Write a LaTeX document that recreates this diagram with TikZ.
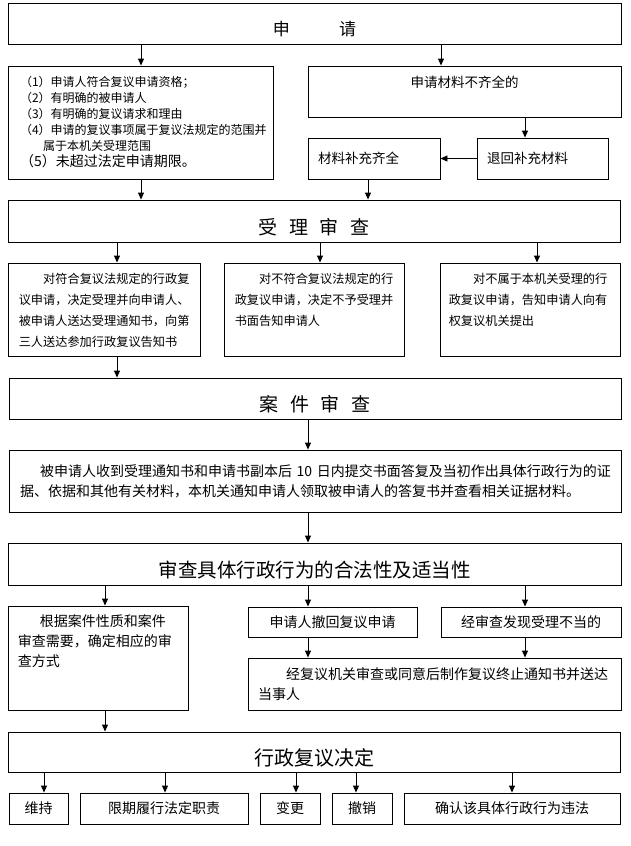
\documentclass[tikz,border=0pt]{standalone}
\usepackage{fontspec}
\setmainfont{Noto Sans CJK SC}
\usetikzlibrary{positioning,calc,arrows.meta}

\begin{document}
\begin{tikzpicture}[x=1pt,y=-1pt,
  box/.style={rectangle,draw,line width=0.9pt,inner sep=0pt},
  size/.style 2 args={minimum width=#1,minimum height=#2},
  title/.style={box,font=\fontsize{19}{22}\selectfont,text height=30pt,text depth=4pt},
  txt/.style={inner sep=0pt,align=left},
  small/.style={font=\fontsize{14}{20}\selectfont},
  arrow/.style={-{Triangle[length=7pt,width=6pt]},line width=0.9pt}
]
\useasboundingbox (0,0) rectangle (630,846);

% columns of the vertical connectors
\coordinate (colQual) at (141,0);
\coordinate (colInc) at (441,0);
\coordinate (colRet) at (525,0);
\coordinate (colSupp) at (368,0);
\coordinate (colA) at (117,0);
\coordinate (colB) at (320,0);
\coordinate (colC) at (537,0);
\coordinate (colMid) at (308,0);
\coordinate (colMode) at (105,0);
\coordinate (colRight) at (525,0);
\coordinate (dU) at (44,0);
\coordinate (dP) at (165,0);
\coordinate (dA) at (296,0);
\coordinate (dR) at (356,0);
\coordinate (dI) at (512,0);

% application
\node[title,size={613}{41},font=\fontsize{17}{20}\selectfont,text height=27pt] (apply) at (314.5,23.5) {申\hspace{2.9em}请};
\node[box,size={265}{113},text width=241pt,inner xsep=12pt,align=left,font=\fontsize{12}{15.8}\selectfont] (qual) at (140.5,122.5)
  {（1）申请人符合复议申请资格；\\（2）有明确的被申请人\\（3）有明确的复议请求和理由\\（4）申请的复议事项属于复议法规定的范围并\\\hspace*{23pt}属于本机关受理范围\\[1pt]{\fontsize{14}{17}\selectfont（5）未超过法定申请期限。}};
\node[box,size={313}{51}] (incomplete) at (464.5,91.5) {};
\node[txt,font=\fontsize{13.5}{16}\selectfont,below=10pt of incomplete.north] (incompletet) {申请材料不齐全的};
\node[box,size={132}{41},text width=112pt,inner xsep=10pt,align=left,font=\fontsize{13.5}{16}\selectfont] (supp) at (374,158.5) {材料补充齐全};
\node[box,size={131}{41},text width=111pt,inner xsep=10pt,align=left,font=\fontsize{13.5}{16}\selectfont] (ret) at (542.5,158.5) {退回补充材料};

% acceptance review
\node[title,size={612}{42}] (accept) at (314,221) {受\hspace{.6em}理\hspace{.6em}审\hspace{.6em}查};
\node[box,size={192}{93}] (acA) at (104,309.5) {};
\node[box,size={180}{93}] (acB) at (314,309.5) {};
\node[box,size={180}{93}] (acC) at (530,309.5) {};
\node[txt,font=\fontsize{12.2}{21}\selectfont,below right=10pt and 11pt of acA.north west] (acAt)
  {\hspace*{2em}对符合复议法规定的行政复\\议申请，决定受理并向申请人、\\被申请人送达受理通知书，向第\\三人送达参加行政复议告知书};
\node[txt,font=\fontsize{12.2}{21}\selectfont,below right=10pt and 11pt of acB.north west] (acBt)
  {\hspace*{2em}对不符合复议法规定的行\\政复议申请，决定不予受理并\\书面告知申请人};
\node[txt,font=\fontsize{12.2}{21}\selectfont,below right=10pt and 9pt of acC.north west] (acCt)
  {\hspace*{2em}对不属于本机关受理的行\\政复议申请，告知申请人向有\\权复议机关提出};

% case review
\node[title,size={612}{41}] (case) at (315,398.5) {案\hspace{.6em}件\hspace{.6em}审\hspace{.6em}查};
\node[box,size={612}{62},text width=590pt,inner xsep=11pt,align=left,small] (reply) at (315,481)
  {\hspace*{20pt}被申请人收到受理通知书和申请书副本后 10 日内提交书面答复及当初作出具体行政行为的证\\据、依据和其他有关材料，本机关通知申请人领取被申请人的答复书并查看相关证据材料。};

% legality review
\node[title,size={613}{42},font=\fontsize{19.5}{22}\selectfont] (legal) at (314.5,564) {审查具体行政行为的合法性及适当性};
\node[box,size={180}{104}] (mode) at (98,658) {};
\node[txt,small,below right=9pt and 10pt of mode.north west] (modet)
  {\hspace*{22pt}根据案件性质和案件\\审查需要，确定相应的审\\查方式};
\node[box,size={169}{30},small] (withdraw) at (332.5,622) {申请人撤回复议申请};
\node[box,size={180}{30},small] (improper) at (531,622) {经审查发现受理不当的};
\node[box,size={373}{52},text width=353pt,inner xsep=10pt,align=left,small] (terminate) at (434.5,684)
  {\hspace*{2em}经复议机关审查或同意后制作复议终止通知书并送达\\当事人};

% decision
\node[title,size={612}{40},font=\fontsize{20}{23}\selectfont] (decision) at (314,752) {行政复议决定};
\node[box,size={59}{31},small] (uphold) at (38.5,808.5) {维持};
\node[box,size={168}{31},small] (perform) at (164,808.5) {限期履行法定职责};
\node[box,size={60}{31},small] (alter) at (290,808.5) {变更};
\node[box,size={60}{31},small] (revoke) at (362,808.5) {撤销};
\node[box,size={216}{31},small] (illegal) at (512,808.5) {确认该具体行政行为违法};

% connectors
\draw[arrow] (colQual |- apply.south) -- (colQual |- qual.north);
\draw[arrow] (colInc |- apply.south) -- (colInc |- incomplete.north);
\draw[arrow] (colRet |- incomplete.south) -- (colRet |- ret.north);
\draw[arrow] (ret.west) -- (supp.east);
\draw[arrow] (colQual |- qual.south) -- (colQual |- accept.north);
\draw[arrow] (colSupp |- supp.south) -- (colSupp |- accept.north);
\draw[arrow] (colA |- accept.south) -- (colA |- acA.north);
\draw[arrow] (colB |- accept.south) -- (colB |- acB.north);
\draw[arrow] (colC |- accept.south) -- (colC |- acC.north);
\draw[arrow] (colA |- acA.south) -- (colA |- case.north);
\draw[arrow] (colMid |- case.south) -- (colMid |- reply.north);
\draw[arrow] (colMid |- reply.south) -- (colMid |- legal.north);
\draw[arrow] (colMode |- legal.south) -- (colMode |- mode.north);
\draw[arrow] (colMid |- legal.south) -- (colMid |- withdraw.north);
\draw[arrow] (colRight |- legal.south) -- (colRight |- improper.north);
\draw[arrow] (colMid |- withdraw.south) -- (colMid |- terminate.north);
\draw[arrow] (colRight |- improper.south) -- (colRight |- terminate.north);
\draw[arrow] (colMode |- mode.south) -- (colMode |- decision.north);
\foreach \d/\tgt in {dU/uphold,dP/perform,dA/alter,dR/revoke,dI/illegal}
  \draw[arrow] (\d |- decision.south) -- (\d |- \tgt.north);
\end{tikzpicture}
\end{document}
